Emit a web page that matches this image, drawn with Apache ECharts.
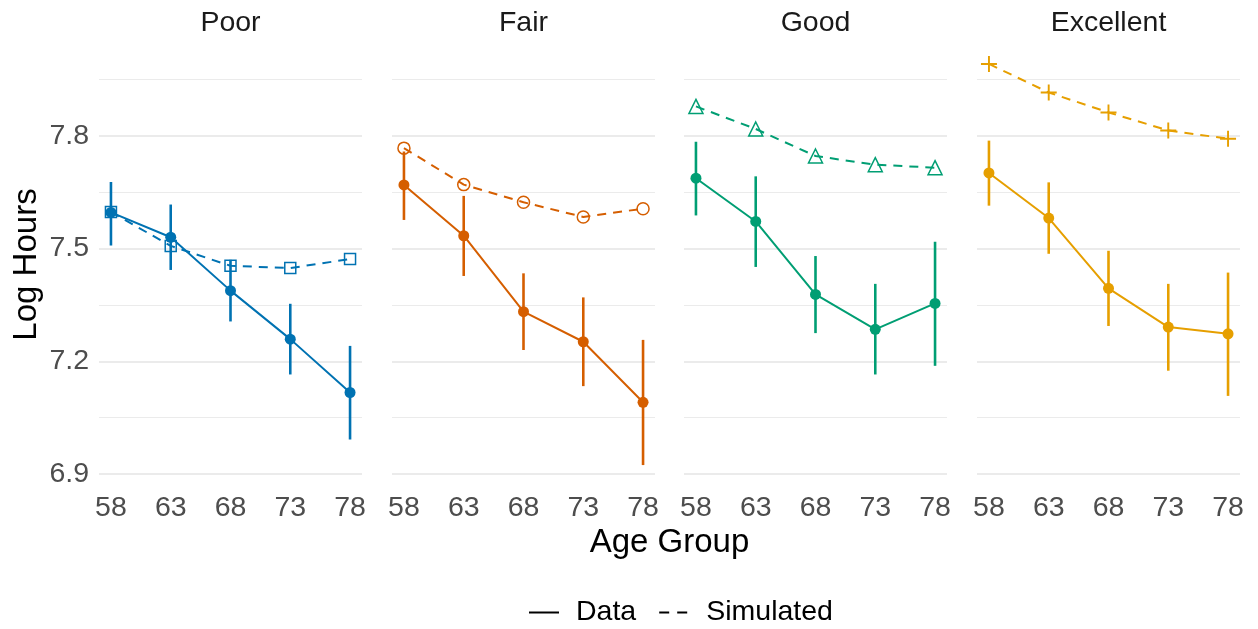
<!DOCTYPE html>
<html lang="en">
<head>
	<meta charset="UTF-8">
	<title>Log Hours by Age Group</title>
	<style type="text/css">
		html, body { margin: 0; padding: 0; background: #fff; }
		#main { width: 1258px; height: 629px; }
	</style>
</head>
<body>
	<div id="main"></div>
	<script type="text/javascript" src="https://cdn.jsdelivr.net/npm/echarts@6/dist/echarts.min.js"></script>
	<script type="text/javascript">
		// facets and x positions
		var panels = ['Poor', 'Fair', 'Good', 'Excellent'];
		var ages = [58, 63, 68, 73, 78];
		var yMajor = [6.9, 7.2, 7.5, 7.8];
		var yMinor = [7.05, 7.35, 7.65, 7.95];

		// observed means with error bars, one row per panel
		var dataMeans = [
			[7.596, 7.530, 7.388, 7.259, 7.117],
			[7.669, 7.534, 7.332, 7.252, 7.091],
			[7.687, 7.572, 7.378, 7.285, 7.354],
			[7.701, 7.581, 7.394, 7.291, 7.273]
		];
		var dataLower = [
			[7.508, 7.443, 7.306, 7.165, 6.992],
			[7.576, 7.427, 7.230, 7.134, 6.924],
			[7.588, 7.451, 7.275, 7.165, 7.188],
			[7.614, 7.486, 7.294, 7.175, 7.108]
		];
		var dataUpper = [
			[7.677, 7.617, 7.470, 7.353, 7.241],
			[7.758, 7.640, 7.434, 7.370, 7.257],
			[7.784, 7.692, 7.480, 7.406, 7.518],
			[7.787, 7.676, 7.494, 7.406, 7.436]
		];
		// simulated values
		var simValues = [
			[7.597, 7.507, 7.454, 7.448, 7.472],
			[7.767, 7.670, 7.623, 7.584, 7.606],
			[7.878, 7.818, 7.746, 7.723, 7.715],
			[7.991, 7.915, 7.862, 7.814, 7.792]
		];

		var colors = ['#0072B2', '#D55E00', '#009E73', '#E69F00'];
		var PLUS = 'path://M8.8,0 H11.2 V8.8 H20 V11.2 H11.2 V20 H8.8 V11.2 H0 V8.8 H8.8 Z';
		var simSymbols = ['rect', 'circle', 'triangle', PLUS];
		var simSizes = [11, 12, 14, 16];

		var FONT = '"Liberation Sans", Arial, Helvetica, sans-serif';
		var SMALL = 28.5;
		var gridLeft = [99, 392, 684, 977];
		var GRID_W = 263, GRID_TOP = 44, GRID_H = 441;
		var YMIN = 6.871, YMAX = 8.044;

		function renderErr(params, api) {
			var x = api.value(0);
			var p1 = api.coord([x, api.value(1)]);
			var p2 = api.coord([x, api.value(2)]);
			return {
				type: 'line',
				shape: { x1: p1[0], y1: p1[1], x2: p2[0], y2: p2[1] },
				style: { stroke: api.visual('color'), lineWidth: 2.6 }
			};
		}

		var grids = [], xAxes = [], yAxes = [], series = [], titles = [];

		var gridLines = [];
		yMajor.forEach(function (v) {
			gridLines.push({ yAxis: v, lineStyle: { width: 2 } });
		});
		yMinor.forEach(function (v) {
			gridLines.push({ yAxis: v, lineStyle: { width: 1 } });
		});

		for (var i = 0; i < panels.length; i++) {
			var c = colors[i];
			grids.push({ left: gridLeft[i], top: GRID_TOP, width: GRID_W, height: GRID_H });
			xAxes.push({
				gridIndex: i, type: 'value', min: 57, max: 79,
				axisLine: { show: false }, axisTick: { show: false }, splitLine: { show: false },
				axisLabel: { customValues: ages, fontSize: SMALL, color: '#4d4d4d', fontFamily: FONT, margin: 9 }
			});
			yAxes.push({
				gridIndex: i, type: 'value', min: YMIN, max: YMAX,
				axisLine: { show: false }, axisTick: { show: false }, splitLine: { show: false },
				axisLabel: {
					show: i === 0, customValues: yMajor, fontSize: SMALL, color: '#4d4d4d',
					fontFamily: FONT, margin: 10
				},
				name: i === 0 ? 'Log Hours' : '',
				nameLocation: 'middle', nameRotate: 90, nameGap: 56,
				nameTextStyle: { fontSize: 33, color: '#000', fontFamily: FONT }
			});
			titles.push({
				text: panels[i], left: gridLeft[i] + GRID_W / 2, top: 9, textAlign: 'center', padding: 0,
				textStyle: { fontSize: SMALL, fontWeight: 'normal', color: '#1a1a1a', fontFamily: FONT }
			});

			var errRows = [], meanRows = [], simRows = [];
			for (var j = 0; j < ages.length; j++) {
				errRows.push([ages[j], dataLower[i][j], dataUpper[i][j]]);
				meanRows.push([ages[j], dataMeans[i][j]]);
				simRows.push([ages[j], simValues[i][j]]);
			}

			series.push({
				name: panels[i] + ' err', type: 'custom', xAxisIndex: i, yAxisIndex: i,
				renderItem: renderErr, itemStyle: { color: c },
				encode: { x: 0, y: [1, 2] }, data: errRows, z: 2
			});
			series.push({
				name: panels[i] + ' sim', type: 'line', xAxisIndex: i, yAxisIndex: i,
				data: simRows, symbol: simSymbols[i], symbolSize: simSizes[i],
				lineStyle: { color: c, width: 2, type: [9, 7] },
				itemStyle: i === 3 ? { color: c, borderWidth: 0 } :
					{ color: 'rgba(0,0,0,0)', borderColor: c, borderWidth: 1.5 },
				z: 3
			});
			series.push({
				name: panels[i] + ' data', type: 'line', xAxisIndex: i, yAxisIndex: i,
				data: meanRows, symbol: 'circle', symbolSize: 11,
				lineStyle: { color: c, width: 2 }, itemStyle: { color: c },
				z: 4,
				markLine: {
					silent: true, symbol: ['none', 'none'], label: { show: false }, z: 1,
					lineStyle: { color: '#ebebeb', type: 'solid' },
					emphasis: { disabled: true },
					data: gridLines
				}
			});
		}

		// legend-only series
		series.push({
			name: 'Data', type: 'line', xAxisIndex: 0, yAxisIndex: 0, data: [], symbol: 'none',
			lineStyle: { color: '#000', width: 2 }, itemStyle: { color: '#000' }
		});
		series.push({
			name: 'Simulated', type: 'line', xAxisIndex: 0, yAxisIndex: 0, data: [], symbol: 'none',
			lineStyle: { color: '#000', width: 2, type: [10, 8] }, itemStyle: { color: '#000' }
		});

		titles.push({
			text: 'Age Group', left: 669.5, top: 526, textAlign: 'center', padding: 0,
			textStyle: { fontSize: 33, fontWeight: 'normal', color: '#000', fontFamily: FONT }
		});

		var chart = echarts.init(document.getElementById('main'));
		chart.setOption({
			animation: false,
			backgroundColor: '#fff',
			title: titles,
			grid: grids,
			xAxis: xAxes,
			yAxis: yAxes,
			legend: {
				data: ['Data', 'Simulated'], left: 523, top: 593, selectedMode: false,
				itemWidth: 30, itemHeight: 14, itemGap: 22,
				itemStyle: { opacity: 0 },
				textStyle: { fontSize: SMALL, color: '#000', fontFamily: FONT, padding: [0, 0, 0, 12] }
			},
			series: series
		});
	</script>
</body>
</html>
